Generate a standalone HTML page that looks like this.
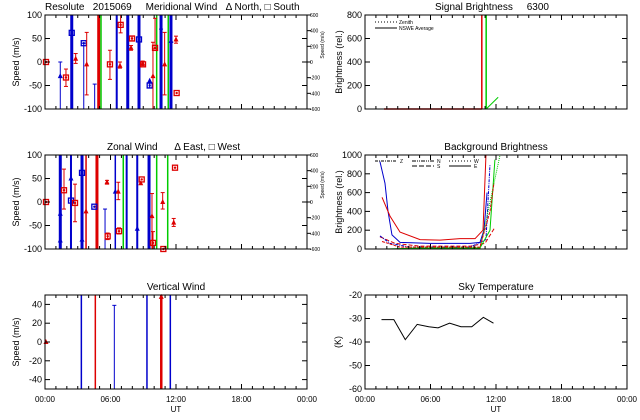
<!DOCTYPE html>
<html><head><meta charset="utf-8"><style>
body{margin:0;background:#fff}
svg{display:block;font-family:"Liberation Sans",sans-serif}
text{font-size:9px;fill:#000;white-space:pre}
</style></head><body>
<svg id="c" width="640" height="420" viewBox="0 0 640 420">
<rect width="640" height="420" fill="#fff"/>
</svg>
<script>
// ---------- data ----------
const merLinesT=[2.45,4.92,5.13,6.57,7.58,8.61,10.23,10.63,11.29,11.54];
const merLinesC=['b','r','g','b','b','b','g','b','g','b'];
const merLinesW=[3,3,1.5,2,3,3,1.5,3,1.5,3];
const merT=[0.09,1.40,1.92,2.45,2.81,3.55,3.82,4.55,5.95,6.87,6.93,7.88,7.97,8.61,8.95,8.98,9.59,9.59,9.89,10.08,10.63,10.96,11.54,12.0,12.06];
const merV=[0,-30,-33,62,7,40,-5,-47,-5,-8,79,30,50,48,-3,-5,-50,-40,-30,30,70,-5,45,48,-66];
const merLo=[0,-100,-52,62,-3,-100,-70,-100,-37,-13,62,25,45,48,-8,-5,-55,-40,-100,28,-100,-70,45,40,-66];
const merHi=[0,0,-15,62,18,40,63,-47,25,0,100,35,55,48,2,-5,-45,-40,42,93,70,63,45,55,-66];
const merC=['r','b','r','b','r','b','r','b','r','r','r','r','r','b','r','r','b','b','r','r','b','r','b','r','r'];
const merS=['s','t','s','s','t','s','t','n','s','t','s','t','s','s','t','s','s','t','t','s','n','t','t','t','s'];

const zonLinesT=[1.40,2.38,3.39,3.76,4.76,6.44,7.17,7.48,8.45,9.53,10.23,11.24];
const zonLinesC=['b','b','b','r','r','b','g','b','b','b','g','g'];
const zonLinesW=[3,2,3,1.5,3,1.5,1.5,2,2,3,1.5,1.5];
const zonT=[0.09,1.40,1.40,1.74,2.38,2.38,2.75,3.39,3.39,3.76,4.52,5.50,5.68,5.74,6.44,6.71,6.78,8.45,8.77,8.86,9.80,9.89,10.78,10.84,11.79,11.91];
const zonV=[0,-82,-25,25,3,50,-2,62,-80,-20,-10,-15,42,-73,22,22,-62,-57,40,48,-30,-87,0,-100,-44,73];
const zonLo=[0,-82,-25,-15,3,50,-42,62,-80,-20,-10,-100,38,-80,22,5,-68,-57,40,48,-100,-100,-15,-100,-52,73];
const zonHi=[0,-82,-25,70,3,50,38,62,-80,-20,-10,-15,46,-66,22,42,-55,-57,40,48,18,-63,20,-100,-35,73];
const zonC=['r','b','b','r','b','b','r','b','b','r','b','b','r','r','b','r','r','b','r','r','r','r','r','r','r','r'];
const zonS=['s','t','t','s','s','t','s','s','t','t','s','n','t','s','t','t','s','t','t','s','t','s','t','s','t','s'];

const verLinesT=[3.33,4.61,9.34,10.65,11.48];
const verLinesC=['b','r','b','r','b'];
const verLinesW=[1.5,1.5,1.5,2.5,1.5];
const verT=[0.09,6.35,10.65];
const verV=[0,39,48];
const verLo=[0,-50,48];
const verHi=[0,39,48];

const sigRedT=[1.74,10.7];
const sigRedV=[0,0];
const sigGreenT=[11.1,12.2];
const sigGreenV=[0,100];
const sigVLinesT=[10.7,11.1];
const sigVLinesC=['r','g'];

const bgSeries=[
 {c:'b',d:'',t:[1.37,1.83,2.11,2.47,3.21,5.95,9.62,10.53,10.9,11.18],v:[930,700,400,150,70,60,60,70,200,600]},
 {c:'r',d:'',t:[1.56,2.29,3.21,5.04,6.87,8.70,10.08,10.81,11.08],v:[550,350,180,100,95,110,110,200,1000]},
 {c:'r',d:'4,2',t:[1.37,2.75,5.04,9.62,10.99,11.9],v:[130,60,30,30,60,230]},
 {c:'b',d:'3,1,1,1',t:[1.37,2.29,4.12,9.62,11.08,11.45],v:[140,60,20,20,100,900]},
 {c:'g',d:'',t:[1.83,5.04,10.53,11.45,11.9],v:[0,10,10,200,950]},
 {c:'g',d:'1,1',t:[2.29,10.53,12.37],v:[0,0,1000]},
 {c:'r',d:'3,1',t:[1.56,3.21,10.53,11.45,11.81],v:[80,20,20,400,700]}
];

const skyT=[1.51,2.64,3.69,4.78,5.84,6.69,7.75,8.79,9.78,10.84,11.77];
const skyV=[-30.5,-30.5,-39,-32.5,-33.5,-34,-32,-33.5,-33.5,-29.5,-32];

const xTickLabels=['00:00','06:00','12:00','18:00','00:00'];
const windTicks=[-100,-50,0,50,100];
const rightTicks=['600','400','200','0','-200','-400','-600'];
const verTicks=[-40,-20,0,20,40];
const sigTicks=[0,200,400,600,800];
const bgTicks=[0,200,400,600,800,1000];
const skyTicks=[-60,-50,-40,-30,-20];

// ---------- drawing ----------
const NS='http://www.w3.org/2000/svg';
const svg=document.getElementById('c');
const COL={b:'#0000cc',r:'#dd0000',g:'#00cc00'};
function mk(tag,attrs,parent){const e=document.createElementNS(NS,tag);for(const k in attrs)e.setAttribute(k,attrs[k]);(parent||svg).appendChild(e);return e;}
function txt(s,x,y,anchor,size,parent){const e=mk('text',{x:x,y:y,'text-anchor':anchor||'start'},parent);if(size)e.style.fontSize=size+'px';e.style.whiteSpace='pre';e.textContent=s;return e;}

function panel(name,x0,x1,y0,y1,ymin,ymax){
  const g=mk('g',{});
  
  
  const p={g,x0,x1,y0,y1,ymin,ymax,
    X:h=>x0+h/24*(x1-x0),
    Y:v=>y1-(v-ymin)/(ymax-ymin)*(y1-y0)};
  return p;
}
function frame(p,yt,xlabels){
  const f=mk('rect',{x:p.x0,y:p.y0,width:p.x1-p.x0,height:p.y1-p.y0,fill:'none',stroke:'#000','stroke-width':1},p.g);
  
  
  for(let h=0;h<=24;h++){
    const x=p.X(h),L=(h%6==0)?5:3;
    mk('line',{x1:x,x2:x,y1:p.y1,y2:p.y1-L,stroke:'#000'},p.g);
    mk('line',{x1:x,x2:x,y1:p.y0,y2:p.y0+L,stroke:'#000'},p.g);
  }
  yt.forEach(v=>{const y=p.Y(v);
    mk('line',{x1:p.x0,x2:p.x0+5,y1:y,y2:y,stroke:'#000'},p.g);
    mk('line',{x1:p.x1,x2:p.x1-5,y1:y,y2:y,stroke:'#000'},p.g);
    const t=txt(String(v),p.x0-3,y+3,'end',9,p.g);
    
    
  });
  if(xlabels){
    xTickLabels.forEach((s,i)=>{const t=txt(s,p.X(i*6),402,'middle',8,p.g);
      
      });
    const u=txt('UT',(p.x0+p.x1)/2,412,'middle',8,p.g);
    
    
  }
}
function ylabel(p,s,x){const cy=(p.y0+p.y1)/2;const t=txt(s,x,cy,'middle',9,p.g);t.setAttribute('transform','rotate(-90 '+x+' '+cy+')');
  
  }
function rightAxis(p){
  rightTicks.forEach((s,i)=>{const y=p.y0+i*(p.y1-p.y0)/6;
    mk('line',{x1:p.x1,x2:p.x1+4,y1:y,y2:y,stroke:'#000'},p.g);
    const t=txt(s,p.x1+3,y+2,'start',5,p.g);
    
    });
  const x=p.x1+17,cy=p.y0+30;const t=txt('Speed (m/s)',x,cy,'middle',5,p.g);t.setAttribute('transform','rotate(-90 '+x+' '+cy+')');
  
  
}
function vlines(p,T,C,W,name){
  T.forEach((h,i)=>{const l=mk('line',{x1:p.X(h),x2:p.X(h),y1:p.y0,y2:p.y1,stroke:COL[C[i]],'stroke-width':W?W[i]:1.5},p.g);
    
    });
}
function points(p,T,V,Lo,Hi,C,S,name){
  T.forEach((h,i)=>{
    const x=p.X(h),col=COL[C[i]];
    const clamp=v=>Math.max(p.ymin,Math.min(p.ymax,v));
    const yl=p.Y(clamp(Lo[i])),yh=p.Y(clamp(Hi[i])),y=p.Y(clamp(V[i]));
    const g=mk('g',{},p.g);
    
    
    if(Lo[i]!=Hi[i]){
      mk('line',{x1:x,x2:x,y1:yl,y2:yh,stroke:col,'stroke-width':1},g);
      mk('line',{x1:x-2,x2:x+2,y1:yl,y2:yl,stroke:col},g);
      mk('line',{x1:x-2,x2:x+2,y1:yh,y2:yh,stroke:col},g);
    }
    if(S[i]=='s') mk('rect',{x:x-2.5,y:y-2.5,width:5,height:5,fill:'none',stroke:col,'stroke-width':1.3},g);
    else if(S[i]=='t') mk('polygon',{points:(x)+','+(y-3)+' '+(x-2.5)+','+(y+2)+' '+(x+2.5)+','+(y+2),fill:col},g);
    if(S[i]!='n') mk('circle',{cx:x,cy:y,r:1.2,fill:col},g);
  });
}
function polyline(p,T,V,col,dash,w,name){
  const pts=T.map((h,i)=>p.X(h)+','+p.Y(Math.min(p.ymax,V[i]))).join(' ');
  const l=mk('polyline',{points:pts,fill:'none',stroke:col,'stroke-width':w||1,'stroke-dasharray':dash||'none'},p.g);
  
  
}

// Panel 1: meridional
const p1=panel('meridional-wind-panel',45,307,15,109,-100,100);
vlines(p1,merLinesT,merLinesC,merLinesW,'meridional-gap-line');
points(p1,merT,merV,merLo,merHi,merC,merS,'meridional-point');
frame(p1,windTicks,false);rightAxis(p1);ylabel(p1,'Speed (m/s)',19);
txt('Resolute   2015069     Meridional Wind   \u0394 North, \u25A1 South',45,10,'start',10,p1.g);

// Panel 2: zonal
const p2=panel('zonal-wind-panel',45,307,155,249,-100,100);
vlines(p2,zonLinesT,zonLinesC,zonLinesW,'zonal-gap-line');
points(p2,zonT,zonV,zonLo,zonHi,zonC,zonS,'zonal-point');
frame(p2,windTicks,false);rightAxis(p2);ylabel(p2,'Speed (m/s)',19);
txt('Zonal Wind      \u0394 East, \u25A1 West',107,150,'start',10,p2.g);

// Panel 3: vertical
const p3=panel('vertical-wind-panel',45,307,295,389,-50,50);
vlines(p3,verLinesT,verLinesC,verLinesW,'vertical-gap-line');
points(p3,verT,verV,verLo,verHi,['r','b','r'],['t','n','t'],'vertical-point');
frame(p3,verTicks,true);ylabel(p3,'Speed (m/s)',19);
txt('Vertical Wind',176,290,'middle',10,p3.g);

// Panel 4: signal brightness
const p4=panel('signal-brightness-panel',365,627,15,109,0,800);
vlines(p4,sigVLinesT,sigVLinesC,[1.5,1.5],'signal-gap-line');
polyline(p4,sigRedT,sigRedV,COL.r,'',1.5,'signal-zenith-line');
polyline(p4,sigGreenT,sigGreenV,COL.g,'',1,'signal-average-line');
frame(p4,sigTicks,false);ylabel(p4,'Brightness (rel.)',342);
txt('Signal Brightness     6300',435,10,'start',10,p4.g);
mk('line',{x1:375,x2:397,y1:22,y2:22,stroke:'#000','stroke-dasharray':'1,2'},p4.g);
mk('line',{x1:375,x2:397,y1:28,y2:28,stroke:'#000'},p4.g);
txt('Zenith',399,24,'start',5,p4.g);
txt('NSWE Average',399,30,'start',5,p4.g);

// Panel 5: background
const p5=panel('background-brightness-panel',365,627,155,249,0,1000);
bgSeries.forEach(s=>polyline(p5,s.t,s.v,COL[s.c],s.d,1,'background-series'));
frame(p5,bgTicks,false);ylabel(p5,'Brightness (rel.)',342);
txt('Background Brightness',496,150,'middle',10,p5.g);
[[375,161,'3,1,1,1','Z',400],[412,161,'4,1,1,1,1,1','N',437],[412,166,'5,2','S',437],[449,161,'1,2','W',474],[449,166,'','E',474]].forEach(a=>{
  mk('line',{x1:a[0],x2:a[0]+22,y1:a[1],y2:a[1],stroke:'#000','stroke-dasharray':a[2]||'none'},p5.g);
  const t=txt(a[3],a[4],a[1]+2,'start',5,p5.g);
  
  
});

// Panel 6: sky temperature
const p6=panel('sky-temperature-panel',365,627,295,389,-60,-20);
polyline(p6,skyT,skyV,'#000','',1,'sky-temperature-line');
frame(p6,skyTicks,true);ylabel(p6,'(K)',341);
txt('Sky Temperature',496,290,'middle',10,p6.g);
</script>
</body></html>
